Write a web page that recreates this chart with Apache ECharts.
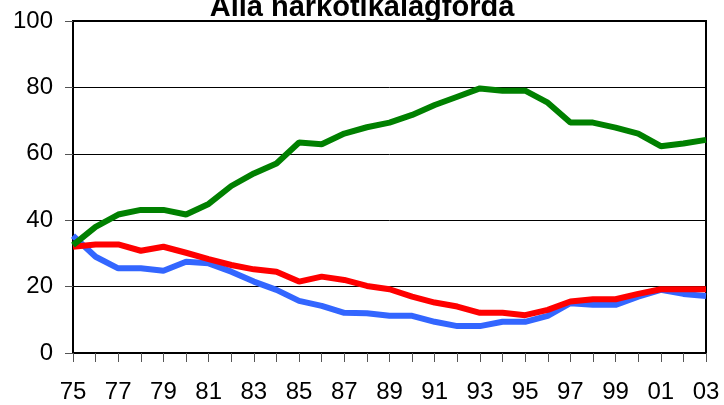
<!DOCTYPE html>
<html>
<head>
<meta charset="utf-8">
<script src="https://cdn.jsdelivr.net/npm/echarts@6/dist/echarts.min.js"></script>
<style>
  html, body { margin: 0; padding: 0; background: #fff; }
  #app { width: 724px; height: 405px; }
</style>
</head>
<body>
<div id="app"></div>
<script>
const years = ['75','76','77','78','79','80','81','82','83','84','85','86','87','88','89',
  '90','91','92','93','94','95','96','97','98','99','00','01','02','03'];

const greenValues = [32.5, 38.0, 41.7, 43.1, 43.1, 41.7, 44.9, 50.3, 54.1, 57.1, 63.4, 62.9, 66.1, 68.0, 69.4,
  71.7, 74.7, 77.2, 79.7, 79.0, 79.0, 75.4, 69.4, 69.4, 67.9, 66.1, 62.3, 63.1, 64.2];
const redValues = [32.0, 32.7, 32.7, 30.8, 32.0, 30.2, 28.3, 26.5, 25.2, 24.5, 21.5, 23.0, 22.0, 20.2, 19.2,
  17.0, 15.2, 14.0, 12.1, 12.1, 11.4, 13.0, 15.5, 16.2, 16.2, 17.8, 19.2, 19.2, 19.2];
const blueValues = [35.3, 29.0, 25.5, 25.5, 24.8, 27.5, 27.0, 24.5, 21.5, 19.0, 15.7, 14.2, 12.1, 12.0, 11.2,
  11.2, 9.4, 8.1, 8.1, 9.4, 9.4, 11.2, 15.0, 14.5, 14.5, 17.0, 19.0, 17.8, 17.2];

const chart = echarts.init(document.getElementById('app'));

const lineSeries = (data, color) => ({
  type: 'line',
  data: data,
  symbol: 'none',
  lineStyle: { color: color, width: 6 },
  itemStyle: { color: color },
  animation: false
});

chart.setOption({
  backgroundColor: '#fff',
  textStyle: { fontFamily: 'Liberation Sans, Arial, sans-serif' },
  title: {
    text: 'Alla narkotikalagförda',
    left: 'center',
    top: -12,
    textStyle: { fontSize: 29, fontWeight: 'bold', color: '#000', fontFamily: 'Liberation Sans, Arial, sans-serif' }
  },
  grid: {
    left: 73, right: 18, top: 21, bottom: 52,
    show: true, borderColor: '#000', borderWidth: 2
  },
  xAxis: {
    type: 'category',
    data: years,
    boundaryGap: false,
    axisLine: { lineStyle: { color: '#000', width: 2 } },
    axisTick: { interval: 0, length: 9, lineStyle: { color: '#555', width: 1 } },
    axisLabel: { interval: 1, margin: 27, fontSize: 24, color: '#000' },
    splitLine: { show: false }
  },
  yAxis: {
    type: 'value',
    min: 0, max: 100, interval: 20,
    axisLine: { show: true, lineStyle: { color: '#000', width: 2 } },
    axisTick: { show: true, length: 8, lineStyle: { color: '#555', width: 1 } },
    axisLabel: { margin: 20, fontSize: 24, color: '#000' },
    splitLine: { lineStyle: { color: '#000', width: 1 } }
  },
  series: [
    lineSeries(blueValues, '#3366ff'),
    lineSeries(redValues, '#ff0000'),
    lineSeries(greenValues, '#008000')
  ]
});
</script>
</body>
</html>
